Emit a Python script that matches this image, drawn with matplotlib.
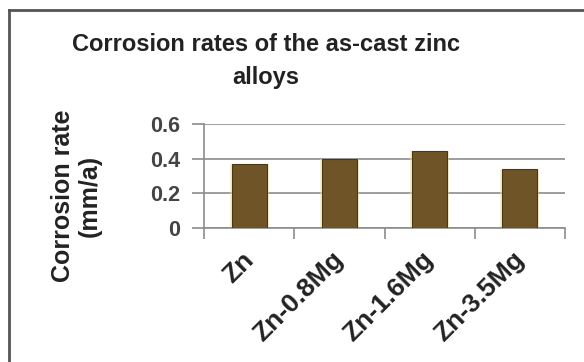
import matplotlib.pyplot as plt
import numpy as np
from matplotlib.lines import Line2D
from matplotlib.transforms import ScaledTranslation

plt.rcParams['font.family'] = ['Liberation Sans', 'DejaVu Sans']

alloys = ["Zn", "Zn-0.8Mg", "Zn-1.6Mg", "Zn-3.5Mg"]
rates = [0.367, 0.396, 0.444, 0.339]
y_ticks = [0, 0.2, 0.4, 0.6]

W, H = 584, 362
fig = plt.figure(figsize=(W / 100, H / 100), dpi=100)
ax = fig.add_axes([204 / W, 1 - 228 / H, (565 - 204) / W, (228 - 124) / H])

x = np.arange(len(alloys))
# soft yellow glow behind the bars
ax.bar(x, rates, width=0.43, color="#efe0a0", alpha=0.5, linewidth=0, zorder=2)
ax.bar(x, rates, width=0.39, color="#6e5426", edgecolor="#4a3715",
       linewidth=0.8, zorder=3)

ax.set_xlim(-0.5, len(alloys) - 0.5)
ax.set_ylim(0, 0.6)
ax.set_yticks(y_ticks)
ax.set_yticklabels([f"{v:g}" for v in y_ticks], fontsize=15.5, fontweight="bold",
                   color="#444444")
ax.yaxis.grid(True, color="#8c8c8c", linewidth=1.2, zorder=0)
ax.tick_params(axis="y", length=9, width=1.2, color="#8c8c8c", pad=8)

# category boundary ticks on x
ax.set_xticks(np.arange(len(alloys) + 1) - 0.5)
ax.set_xticklabels([])
ax.tick_params(axis="x", which="major", length=8, width=1.2, color="#8c8c8c")
ax.set_xticks(x, minor=True)
ax.set_xticklabels(alloys, minor=True, rotation=45, ha="right", va="top",
                   rotation_mode="anchor", fontsize=19, fontweight="bold",
                   color="#222222")
ax.tick_params(axis="x", which="minor", length=0, pad=14)
for lbl in ax.get_xticklabels(minor=True):
    lbl.set_transform(lbl.get_transform() + ScaledTranslation(-0.08, 0, fig.dpi_scale_trans))

for s in ["top", "right"]:
    ax.spines[s].set_visible(False)
for s in ["left", "bottom"]:
    ax.spines[s].set_color("#8c8c8c")
    ax.spines[s].set_linewidth(1.2)

fig.text(76 / W, 1 - 196 / H, "Corrosion rate\n(mm/a)", rotation=90,
         ha="center", va="center", fontsize=18, fontweight="bold",
         color="#222222", linespacing=1.15)

fig.text(266 / W, 1 - 61 / H, "Corrosion rates of the as-cast zinc\nalloys",
         ha="center", va="center", fontsize=17, fontweight="bold",
         color="#222222", linespacing=1.55)

# outer frame
fig.add_artist(Line2D([9 / W, 9 / W], [0, 1 - 10 / H], color="#555555",
                      linewidth=2, transform=fig.transFigure))
fig.add_artist(Line2D([9 / W, 1], [1 - 10 / H, 1 - 10 / H], color="#555555",
                      linewidth=2, transform=fig.transFigure))

fig.savefig("out.png", dpi=100)
